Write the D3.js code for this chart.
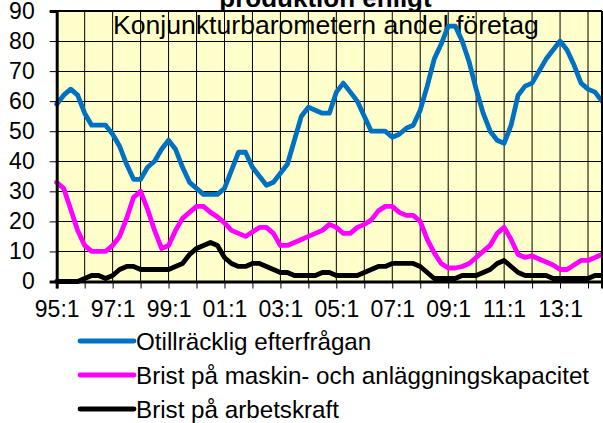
<!DOCTYPE html>
<html>
<head>
<meta charset="utf-8">
<script src="https://cdn.jsdelivr.net/npm/d3@7"></script>
<style>
  html, body { margin: 0; padding: 0; background: #ffffff; }
  svg { display: block; font-family: "Liberation Sans", Arial, sans-serif; }
</style>
</head>
<body>
<svg id="chart" width="603" height="423"></svg>
<script>
// Quarterly categories 95:1 .. 14:3
const years = ["95","96","97","98","99","00","01","02","03","04","05","06","07","08","09","10","11","12","13","14"];
const quarters = [];
years.forEach(yr => [1, 2, 3, 4].forEach(q => quarters.push(yr + ":" + q)));
quarters.splice(quarters.indexOf("14:4"), 1);

const xTickLabels = ["95:1","97:1","99:1","01:1","03:1","05:1","07:1","09:1","11:1","13:1"];
const yTicks = [0, 10, 20, 30, 40, 50, 60, 70, 80, 90];

const seriesNames = [
  "Otillräcklig efterfrågan",
  "Brist på maskin- och anläggningskapacitet",
  "Brist på arbetskraft"
];
const seriesColors = ["#0070C0", "#FF00FF", "#000000"];

const otillracklig = [
  59, 62, 64, 62, 56, 52, 52, 52, 49, 45, 39, 34, 34, 38, 40, 44,
  47, 44, 38, 33, 31, 29, 29, 29, 31, 37, 43, 43, 38, 35, 32, 33,
  36, 39, 47, 55, 58, 57, 56, 56, 63, 66, 63, 60, 55, 50, 50, 50,
  48, 49, 51, 52, 57, 65, 74, 79, 85, 85, 80, 73, 64, 56, 50, 47,
  46, 52, 62, 65, 66, 70, 74, 77, 80, 77, 72, 66, 64, 63, 60
];
const maskin = [
  33, 31, 24, 17, 12, 10, 10, 10, 12, 15, 21, 28, 30, 24, 17, 11,
  12, 17, 21, 23, 25, 25, 23, 21.5, 19.5, 17, 16, 15, 16.5, 18, 18, 16,
  12, 12, 13, 14, 15, 16, 17, 19, 18, 16, 16, 18, 19, 20.5, 23.5, 25,
  25, 23, 22, 22, 20, 14, 9.5, 6, 4.5, 4.5, 5, 6, 8, 10, 12, 16,
  18, 14, 9, 8, 8.5, 7.5, 6.5, 5.5, 4, 4, 5.5, 7, 7, 8, 9
];
const arbetskraft = [
  0, 0, 0, 0, 1, 2, 2, 1, 2, 4, 5, 5, 4, 4, 4, 4,
  4, 5, 6, 9, 11, 12, 13, 12, 8, 6, 5, 5, 6, 6, 5, 4,
  3, 3, 2, 2, 2, 2, 3, 3, 2, 2, 2, 2, 3, 4, 5, 5,
  6, 6, 6, 6, 5, 3, 1, 1, 1, 1, 2, 2, 2, 3, 4, 6,
  7, 5, 3, 2, 2, 2, 2, 1, 1, 1, 1, 1, 1, 2, 2
];
const series = [otillracklig, maskin, arbetskraft];

const svg = d3.select("#chart");
const plotLeft = 56.7, plotRight = 602, plotTop = 11, plotBottom = 281.5;

const x = d3.scalePoint().domain(quarters).range([plotLeft, plotRight]);
const y = d3.scaleLinear().domain([0, 90]).range([plotBottom, plotTop]);

// plot background
svg.append("rect")
  .attr("x", plotLeft).attr("y", plotTop)
  .attr("width", plotRight - plotLeft).attr("height", plotBottom - plotTop)
  .attr("fill", "#FFFFCC");

// yearly vertical grid lines
const yearStarts = quarters.filter(q => q.endsWith(":1"));
svg.append("g").selectAll("line").data(yearStarts).join("line")
  .attr("x1", d => x(d)).attr("x2", d => x(d))
  .attr("y1", plotTop).attr("y2", plotBottom)
  .attr("stroke", "#000").attr("stroke-width", 1);

// horizontal grid lines
svg.append("g").selectAll("line").data(yTicks).join("line")
  .attr("x1", plotLeft).attr("x2", plotRight)
  .attr("y1", d => Math.round(y(d)) + 0.5).attr("y2", d => Math.round(y(d)) + 0.5)
  .attr("stroke", "#000").attr("stroke-width", 1);

// heading inside the plot area
svg.append("text")
  .attr("x", 113).attr("y", 33.5)
  .attr("font-size", 26.6).attr("fill", "#000")
  .text("Konjunkturbarometern andel företag");

// chart title above the plot (runs off the top edge)
svg.append("text")
  .attr("x", 325.5).attr("y", 6.5)
  .attr("text-anchor", "middle")
  .attr("font-size", 26).attr("font-weight", "bold")
  .text("produktion enligt");

// series lines
const line = d3.line()
  .x((d, i) => x(quarters[i]))
  .y(d => y(d));
series.forEach((s, k) => {
  svg.append("path")
    .datum(s)
    .attr("d", line)
    .attr("fill", "none")
    .attr("stroke", seriesColors[k])
    .attr("stroke-width", 4.8)
    .attr("stroke-linejoin", "round")
    .attr("stroke-linecap", "round");
});

// plot frame
svg.append("line").attr("x1", plotLeft).attr("x2", plotRight).attr("y1", plotTop).attr("y2", plotTop)
  .attr("stroke", "#000").attr("stroke-width", 2);
svg.append("line").attr("x1", plotRight).attr("x2", plotRight).attr("y1", plotTop).attr("y2", plotBottom)
  .attr("stroke", "#000").attr("stroke-width", 2);

// y axis
const yAxis = d3.axisLeft(y).tickValues(yTicks).tickSize(7).tickPadding(15);
const gy = svg.append("g").attr("transform", `translate(${plotLeft},0)`).call(yAxis);
gy.select(".domain").attr("stroke", "#000").attr("stroke-width", 3);
gy.selectAll(".tick line").attr("stroke", "#000").attr("stroke-width", 1);
gy.selectAll(".tick text")
  .attr("font-size", 23).attr("font-family", "Liberation Sans, Arial, sans-serif")
  .attr("fill", "#000");

// x axis
const xAxis = d3.axisBottom(x)
  .tickValues(yearStarts)
  .tickSize(7)
  .tickPadding(12)
  .tickFormat(d => xTickLabels.includes(d) ? d : "");
const gx = svg.append("g").attr("transform", `translate(0,${plotBottom})`).call(xAxis);
gx.select(".domain").attr("stroke", "#000").attr("stroke-width", 3);
gx.selectAll(".tick line").attr("stroke", "#000").attr("stroke-width", 1);
gx.selectAll(".tick text")
  .attr("font-size", 23).attr("font-family", "Liberation Sans, Arial, sans-serif")
  .attr("fill", "#000");

// legend
const legendY = [341, 375, 409];
const lg = svg.append("g");
seriesNames.forEach((name, k) => {
  lg.append("line")
    .attr("x1", 80).attr("x2", 134)
    .attr("y1", legendY[k]).attr("y2", legendY[k])
    .attr("stroke", seriesColors[k]).attr("stroke-width", 4.8)
    .attr("stroke-linecap", "round");
  lg.append("text")
    .attr("x", 136).attr("y", legendY[k] + 9)
    .attr("font-size", 24.2).attr("fill", "#000")
    .text(name);
});
</script>
</body>
</html>
